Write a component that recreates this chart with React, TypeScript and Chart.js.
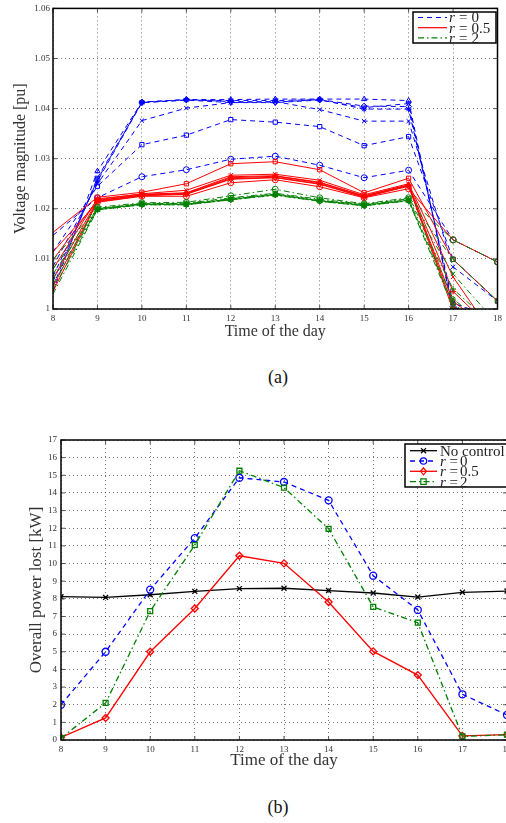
import React, { useEffect, useRef } from 'react';
import { Chart, registerables } from 'chart.js';

Chart.register(...registerables);

// ---------- shared ----------
const hours = [8, 9, 10, 11, 12, 13, 14, 15, 16, 17, 18];

// ---------- chart (a): voltage magnitude [pu] ----------
// r = 0 (blue, dashed)
const vB_circle = [1.0147, 1.0222, 1.0264, 1.0278, 1.0299, 1.0305, 1.0287, 1.0262, 1.0277, 1.0138, 1.0094];
const vB_square = [1.0114, 1.0245, 1.0328, 1.0347, 1.0378, 1.0373, 1.0364, 1.0326, 1.0344, 1.0099, 1.0016];
const vB_x = [1.0085, 1.025, 1.0376, 1.0401, 1.0412, 1.0414, 1.0398, 1.0375, 1.0375, 1.0084, 1.0016];
const vB_star = [1.0065, 1.0255, 1.0412, 1.0417, 1.0416, 1.0416, 1.0418, 1.0399, 1.0399, 1.0012, 0.998];
const vB_diamond = [1.0055, 1.0258, 1.0413, 1.0418, 1.0414, 1.0413, 1.0418, 1.0405, 1.0404, 1.0005, 0.997];
const vB_triDown = [1.0045, 1.0262, 1.0412, 1.0417, 1.0412, 1.0412, 1.0417, 1.0402, 1.041, 0.9999, 0.997];
const vB_tri = [1.0035, 1.0275, 1.0413, 1.0418, 1.0418, 1.0419, 1.0419, 1.0419, 1.0416, 0.9995, 0.996];
// r = 0.5 (red, solid)
const vR_square = [1.0153, 1.0223, 1.0233, 1.025, 1.029, 1.0294, 1.0278, 1.0232, 1.0261, 1.0099, 1.0016];
const vR_circle = [1.0114, 1.0213, 1.0225, 1.0225, 1.0252, 1.0258, 1.0244, 1.0222, 1.024, 1.0138, 1.0094];
const vR_x = [1.0098, 1.0218, 1.023, 1.0237, 1.0267, 1.0269, 1.0257, 1.0228, 1.025, 1.0064, 0.9936];
const vR_star = [1.008, 1.022, 1.0229, 1.0232, 1.0264, 1.0266, 1.0253, 1.0226, 1.0248, 1.0035, 0.995];
const vR_diamond = [1.006, 1.0217, 1.0227, 1.023, 1.026, 1.0263, 1.025, 1.0224, 1.0246, 1.0015, 0.995];
const vR_tri = [1.0045, 1.0215, 1.0228, 1.0231, 1.0262, 1.0265, 1.0252, 1.0225, 1.0247, 1.0005, 0.995];
const vR_triDown = [1.0035, 1.0214, 1.0226, 1.0229, 1.0259, 1.0262, 1.0249, 1.0223, 1.0245, 0.9998, 0.995];
// r = 2 (green, dash-dot)
const vG_circle = [1.0098, 1.0203, 1.0212, 1.0213, 1.0226, 1.0239, 1.0222, 1.021, 1.0222, 1.0138, 1.0094];
const vG_square = [1.008, 1.0201, 1.021, 1.0211, 1.0222, 1.0231, 1.0219, 1.0209, 1.022, 1.0099, 1.0016];
const vG_x = [1.007, 1.02, 1.021, 1.021, 1.022, 1.023, 1.0217, 1.0208, 1.0218, 1.007, 0.997];
const vG_plus = [1.006, 1.0199, 1.0209, 1.0209, 1.0219, 1.0229, 1.0216, 1.0207, 1.0217, 1.004, 0.996];
const vG_star = [1.005, 1.0199, 1.0209, 1.0209, 1.0219, 1.0228, 1.0216, 1.0207, 1.0217, 1.002, 0.995];
const vG_diamond = [1.004, 1.0198, 1.0208, 1.0208, 1.0218, 1.0228, 1.0215, 1.0206, 1.0216, 1.001, 0.995];
const vG_tri = [1.003, 1.0198, 1.0208, 1.0208, 1.0218, 1.0227, 1.0215, 1.0206, 1.0216, 1.0003, 0.995];

const legendA = ['0', '0.5', '2'];

// ---------- chart (b): overall power lost [kW] ----------
const lossNoControl = [8.12, 8.08, 8.23, 8.42, 8.58, 8.6, 8.47, 8.33, 8.1, 8.37, 8.44];
const lossR0 = [2.0, 5.0, 8.52, 11.44, 14.86, 14.62, 13.58, 9.31, 7.37, 2.59, 1.42];
const lossR05 = [0.15, 1.25, 5.0, 7.45, 10.44, 10.01, 7.82, 5.02, 3.68, 0.23, 0.3];
const lossR2 = [0.1, 2.1, 7.3, 11.05, 15.26, 14.3, 11.97, 7.54, 6.65, 0.2, 0.3];

const legendB = ['No control', '0', '0.5', '2'];

// ---------- styling ----------
const SERIF = '"Liberation Serif", "DejaVu Serif", serif';
const BLUE = '#0000ff';
const RED = '#ff0000';
const GREEN = '#008000';
const DASH = [5, 4];
const DASHDOT = [6, 3, 1.5, 3];

function drawMarker(ctx: CanvasRenderingContext2D, kind: string, x: number, y: number, r: number) {
  ctx.beginPath();
  if (kind === 'circle') {
    ctx.arc(x, y, r, 0, Math.PI * 2);
  } else if (kind === 'rect') {
    ctx.rect(x - r * 0.85, y - r * 0.85, r * 1.7, r * 1.7);
  } else if (kind === 'rectRot') {
    ctx.moveTo(x, y - r * 1.1);
    ctx.lineTo(x + r * 0.9, y);
    ctx.lineTo(x, y + r * 1.1);
    ctx.lineTo(x - r * 0.9, y);
    ctx.closePath();
  } else if (kind === 'crossRot') {
    ctx.moveTo(x - r * 0.8, y - r * 0.8);
    ctx.lineTo(x + r * 0.8, y + r * 0.8);
    ctx.moveTo(x + r * 0.8, y - r * 0.8);
    ctx.lineTo(x - r * 0.8, y + r * 0.8);
  }
  ctx.stroke();
}

const framePlugin = {
  id: 'frame',
  afterDraw(chart: any) {
    const { ctx, chartArea, scales } = chart;
    const { left, right, top, bottom } = chartArea;
    ctx.save();
    ctx.setLineDash([]);
    ctx.strokeStyle = '#555';
    ctx.lineWidth = 1;
    const L = 4;
    ctx.beginPath();
    scales.x.ticks.forEach((t: any) => {
      const px = scales.x.getPixelForValue(t.value);
      ctx.moveTo(px, bottom);
      ctx.lineTo(px, bottom - L);
      ctx.moveTo(px, top);
      ctx.lineTo(px, top + L);
    });
    scales.y.ticks.forEach((t: any) => {
      const py = scales.y.getPixelForValue(t.value);
      ctx.moveTo(left, py);
      ctx.lineTo(left + L, py);
      ctx.moveTo(right, py);
      ctx.lineTo(right - L, py);
    });
    ctx.stroke();
    ctx.strokeStyle = '#000';
    ctx.lineWidth = 1.5;
    ctx.strokeRect(left, top, right - left, bottom - top);
    ctx.restore();
  },
};

const boxLegendPlugin = {
  id: 'boxLegend',
  afterDraw(chart: any, _args: any, opts: any) {
    const ctx: CanvasRenderingContext2D = chart.ctx;
    const { x, y, w, h, first, rowH, lineX0, lineX1, textX, eqX, valX, items } = opts;
    ctx.save();
    ctx.setLineDash([]);
    ctx.fillStyle = '#fff';
    ctx.fillRect(x, y, w, h);
    ctx.strokeStyle = '#000';
    ctx.lineWidth = 1.5;
    ctx.strokeRect(x, y, w, h);
    items.forEach((it: any, i: number) => {
      const cy = y + first + i * rowH;
      ctx.strokeStyle = it.color;
      ctx.lineWidth = it.width;
      ctx.setLineDash(it.dash);
      ctx.beginPath();
      ctx.moveTo(lineX0, cy);
      ctx.lineTo(lineX1, cy);
      ctx.stroke();
      ctx.setLineDash([]);
      if (it.marker) {
        ctx.lineWidth = 1.2;
        ctx.fillStyle = '#fff';
        drawMarker(ctx, it.marker, (lineX0 + lineX1) / 2, cy, 3.2);
      }
      ctx.fillStyle = '#222';
      ctx.textBaseline = 'middle';
      ctx.textAlign = 'left';
      if (it.plain) {
        ctx.font = `15px ${SERIF}`;
        ctx.fillText(it.label, textX, cy + 1);
      } else {
        ctx.font = `italic 15px ${SERIF}`;
        ctx.fillText('r', textX, cy + 1);
        ctx.font = `15px ${SERIF}`;
        ctx.fillText('=', eqX, cy + 1);
        ctx.fillText(it.label, valX, cy + 1);
      }
    });
    ctx.restore();
  },
};

function axisCommon(size: number) {
  return {
    type: 'linear' as const,
    grid: { color: 'rgba(0,0,0,0.55)', drawTicks: false, lineWidth: 1 },
    border: { display: false, dash: [1, 3] },
    ticks: { font: { family: SERIF, size }, color: '#333', padding: 4, maxRotation: 0 },
  };
}

function toPoints(vals: number[]) {
  return hours.map((h, i) => ({ x: h, y: vals[i] }));
}

function configA(): any {
  const datasets: any[] = [];
  const add = (vals: number[], color: string, dash: number[], style: string, rot: number, order: number) => {
    datasets.push({
      data: toPoints(vals),
      borderColor: color,
      backgroundColor: 'transparent',
      borderWidth: 1,
      borderDash: dash,
      pointStyle: style,
      pointRotation: rot,
      pointRadius: (c: any) => (c.dataIndex === 0 ? 0 : 3),
      pointBorderColor: color,
      pointBackgroundColor: 'transparent',
      pointBorderWidth: 1,
      order,
      clip: 0,
      tension: 0,
    });
  };
  add(vB_circle, BLUE, DASH, 'circle', 0, 3);
  add(vB_square, BLUE, DASH, 'rect', 0, 3);
  add(vB_x, BLUE, DASH, 'crossRot', 0, 3);
  add(vB_star, BLUE, DASH, 'star', 0, 3);
  add(vB_diamond, BLUE, DASH, 'rectRot', 0, 3);
  add(vB_triDown, BLUE, DASH, 'triangle', 180, 3);
  add(vB_tri, BLUE, DASH, 'triangle', 0, 3);
  add(vR_square, RED, [], 'rect', 0, 2);
  add(vR_circle, RED, [], 'circle', 0, 2);
  add(vR_x, RED, [], 'crossRot', 0, 2);
  add(vR_star, RED, [], 'star', 0, 2);
  add(vR_diamond, RED, [], 'rectRot', 0, 2);
  add(vR_tri, RED, [], 'triangle', 0, 2);
  add(vR_triDown, RED, [], 'triangle', 180, 2);
  add(vG_circle, GREEN, DASHDOT, 'circle', 0, 1);
  add(vG_square, GREEN, DASHDOT, 'rect', 0, 1);
  add(vG_x, GREEN, DASHDOT, 'crossRot', 0, 1);
  add(vG_plus, GREEN, DASHDOT, 'cross', 0, 1);
  add(vG_star, GREEN, DASHDOT, 'star', 0, 1);
  add(vG_diamond, GREEN, DASHDOT, 'rectRot', 0, 1);
  add(vG_tri, GREEN, DASHDOT, 'triangle', 0, 1);

  const cx = axisCommon(9);
  const cy = axisCommon(9);
  return {
    type: 'line',
    data: { datasets },
    plugins: [framePlugin, boxLegendPlugin],
    options: {
      responsive: false,
      animation: false,
      devicePixelRatio: 1,
      layout: { padding: { top: 6, right: 7, left: 0, bottom: 0 } },
      plugins: {
        legend: { display: false },
        tooltip: { enabled: false },
        boxLegend: {
          x: 413, y: 12, w: 83, h: 31, first: 5.5, rowH: 10.2,
          lineX0: 418, lineX1: 447, textX: 449, eqX: 459, valX: 471.5,
          items: [
            { label: legendA[0], color: BLUE, dash: DASH, width: 1.2 },
            { label: legendA[1], color: RED, dash: [], width: 1.2 },
            { label: legendA[2], color: GREEN, dash: DASHDOT, width: 1.2 },
          ],
        },
      },
      scales: {
        x: {
          ...cx,
          min: 8,
          max: 18,
          ticks: { ...cx.ticks, stepSize: 1 },
          title: { display: true, text: 'Time of the day', font: { family: SERIF, size: 16 }, color: '#333', padding: { top: 0, bottom: 0 } },
          afterFit: (s: any) => { s.height = 32; },
        },
        y: {
          ...cy,
          min: 1,
          max: 1.06,
          ticks: { ...cy.ticks, padding: 3, stepSize: 0.01, callback: (v: any) => String(Math.round(Number(v) * 100) / 100) },
          title: { display: true, text: 'Voltage magnitude [pu]', font: { family: SERIF, size: 16 }, color: '#333', padding: { top: 11, bottom: 0 } },
          afterFit: (s: any) => { s.width = 53; },
        },
      },
    },
  };
}

function configB(): any {
  const mk = (vals: number[], color: string, dash: number[], style: string, order: number) => ({
    data: toPoints(vals),
    borderColor: color,
    backgroundColor: 'transparent',
    borderWidth: 1.3,
    borderDash: dash,
    pointStyle: style,
    pointRadius: 3.5,
    pointBorderColor: color,
    pointBackgroundColor: 'transparent',
    pointBorderWidth: 1.3,
    order,
    clip: 0,
    tension: 0,
  });
  const datasets = [
    mk(lossNoControl, '#000000', [], 'crossRot', 4),
    mk(lossR0, BLUE, DASH, 'circle', 3),
    mk(lossR05, RED, [], 'rectRot', 2),
    mk(lossR2, GREEN, DASHDOT, 'rect', 1),
  ];
  const cx = axisCommon(9);
  const cy = axisCommon(9);
  return {
    type: 'line',
    data: { datasets },
    plugins: [framePlugin, boxLegendPlugin],
    options: {
      responsive: false,
      animation: false,
      devicePixelRatio: 1,
      layout: { padding: { top: 10, right: 13, left: 0, bottom: 0 } },
      plugins: {
        legend: { display: false },
        tooltip: { enabled: false },
        boxLegend: {
          x: 405, y: 14, w: 130, h: 43, first: 6.7, rowH: 10.3,
          lineX0: 410, lineX1: 437, textX: 440, eqX: 449.5, valX: 460,
          items: [
            { label: legendB[0], color: '#000', dash: [], width: 1.3, marker: 'crossRot', plain: true },
            { label: legendB[1], color: BLUE, dash: DASH, width: 1.3, marker: 'circle' },
            { label: legendB[2], color: RED, dash: [], width: 1.3, marker: 'rectRot' },
            { label: legendB[3], color: GREEN, dash: DASHDOT, width: 1.3, marker: 'rect' },
          ],
        },
      },
      scales: {
        x: {
          ...cx,
          min: 8,
          max: 18,
          ticks: { ...cx.ticks, stepSize: 1 },
          title: { display: true, text: 'Time of the day', font: { family: SERIF, size: 17 }, color: '#333', padding: { top: 0, bottom: 0 } },
          afterFit: (s: any) => { s.height = 31; },
        },
        y: {
          ...cy,
          min: 0,
          max: 17,
          ticks: { ...cy.ticks, stepSize: 1 },
          title: { display: true, text: 'Overall power lost [kW]', font: { family: SERIF, size: 17 }, color: '#333', padding: { top: 26, bottom: 0 } },
          afterFit: (s: any) => { s.width = 61; },
        },
      },
    },
  };
}

export default function App() {
  const refA = useRef<HTMLCanvasElement>(null);
  const refB = useRef<HTMLCanvasElement>(null);

  useEffect(() => {
    const a = new Chart(refA.current as HTMLCanvasElement, configA());
    const b = new Chart(refB.current as HTMLCanvasElement, configB());
    return () => {
      a.destroy();
      b.destroy();
    };
  }, []);

  const caption: React.CSSProperties = {
    position: 'absolute',
    left: 228,
    width: 100,
    textAlign: 'center',
    fontFamily: SERIF,
    fontSize: 18,
    lineHeight: '22px',
    color: '#111',
  };

  return (
    <div style={{ position: 'absolute', left: 0, top: 0, width: 506, height: 823, overflow: 'hidden', background: '#fff' }}>
      <canvas ref={refA} width={506} height={341} style={{ position: 'absolute', left: 0, top: 0, width: 506, height: 341 }} />
      <div style={{ ...caption, top: 366 }}>(a)</div>
      <canvas ref={refB} width={520} height={341} style={{ position: 'absolute', left: 0, top: 430, width: 520, height: 341 }} />
      <div style={{ ...caption, top: 796 }}>(b)</div>
    </div>
  );
}
